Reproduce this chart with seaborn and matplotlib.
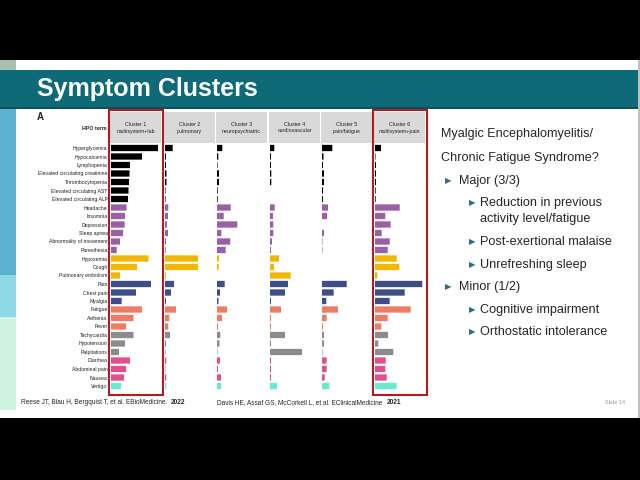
import numpy as np
import pandas as pd
import seaborn as sns
import matplotlib.pyplot as plt
from matplotlib.patches import Rectangle

# HPO terms (rows) and the symptom group each one belongs to
terms = ['Hyperglycemia', 'Hypocalcemia', 'Lymphopenia', 'Elevated circulating creatinine',
         'Thrombocytopenia', 'Elevated circulating AST', 'Elevated circulating ALP',
         'Headache', 'Insomnia', 'Depression', 'Sleep apnea', 'Abnormality of movement',
         'Paresthesia', 'Hypoxemia', 'Cough', 'Pulmonary embolism', 'Pain', 'Chest pain',
         'Myalgia', 'Fatigue', 'Asthenia', 'Fever', 'Tachycardia', 'Hypotension',
         'Palpitations', 'Diarrhea', 'Abdominal pain', 'Nausea', 'Vertigo']
groups = (['lab'] * 7 + ['neuro'] * 6 + ['pulm'] * 3 + ['pain'] * 3 + ['fatigue'] * 3
          + ['cardio'] * 3 + ['gi'] * 3 + ['vertigo'])
group_colors = {'lab': '#000000', 'neuro': '#9b5fa5', 'pulm': '#f1b606', 'pain': '#3d4e8a',
                'fatigue': '#f07b63', 'cardio': '#8c8c8c', 'gi': '#e0508c', 'vertigo': '#66ebd2'}

cluster_names = ['Cluster 1\nmultisystem+lab', 'Cluster 2\npulmonary', 'Cluster 3\nneuropsychiatric',
                 'Cluster 4\ncardiovascular', 'Cluster 5\npain/fatigue', 'Cluster 6\nmultisystem+pain']

# relative frequency of each term per cluster
cluster1 = [47, 31, 19, 18.5, 18, 17.5, 17, 15.5, 14, 13.7, 12, 9, 5.7, 37.5, 26, 9, 40, 25,
            10.7, 31, 22.5, 15, 22.5, 14, 8, 19, 15, 13, 10]
cluster2 = [7.7, 1, 1, 1.5, 1.5, 0.5, 0.5, 3.3, 3, 2, 3, 1, 0.7, 33, 33, 1, 9, 6,
            1, 11, 4.3, 3.3, 5, 1, 0.5, 1.3, 0.5, 1.3, 1.3]
cluster3 = [5.3, 1.3, 0.5, 2, 2, 0.7, 0.7, 13.7, 6.7, 20.3, 4.3, 13.3, 8.7, 2, 1.7, 0, 7.7, 3,
            1.5, 10, 5, 1, 3.3, 2.5, 0.5, 3, 1, 4, 4]
cluster4 = [4.3, 1, 1, 1.3, 1.3, 0, 0, 4.7, 3, 3.3, 3.3, 2, 1, 9, 4, 20.7, 18, 15,
            1, 11, 1, 1, 15, 1, 32, 1, 1, 1, 7]
cluster5 = [10.3, 1.5, 1, 2, 2, 1, 1, 6, 5, 0, 2, 0.5, 0.5, 0, 0, 0, 24.7, 11.7,
            4.3, 16, 4.7, 1, 2, 2, 0.5, 4.7, 4.7, 2.7, 7.3]
cluster6 = [6, 0.5, 1, 1, 1, 0.7, 0.7, 24.7, 10.3, 15.7, 6.7, 14.7, 12.7, 21.7, 24.3, 2.3, 47.3, 29.7,
            14.7, 35.7, 12.7, 6.3, 13, 3.3, 18.3, 10.7, 10.3, 11.7, 21.7]
clusters = [cluster1, cluster2, cluster3, cluster4, cluster5, cluster6]

W, H = 640, 480


def box(x0, y0, x1, y1):
    # pixel box -> figure fraction rect
    return [x0 / W, 1 - y1 / H, (x1 - x0) / W, (y1 - y0) / H]


sns.set_theme(style='white')
plt.rcParams['font.family'] = ['Liberation Sans', 'DejaVu Sans']

fig = plt.figure(figsize=(6.4, 4.8), dpi=100, facecolor='black')

# slide background
bg = fig.add_axes([0, 0, 1, 1])
bg.set_xlim(0, W)
bg.set_ylim(H, 0)
bg.axis('off')
bg.add_patch(Rectangle((0, 60), 638, 358, color='white', lw=0))
bg.add_patch(Rectangle((638, 60), 2, 358, color='#bfbfbf', lw=0))
bg.add_patch(Rectangle((0, 60), 16, 10, color='#a9bfb0', lw=0))
bg.add_patch(Rectangle((0, 70), 638, 38, color='#0e6a77', lw=0))
bg.add_patch(Rectangle((0, 107), 638, 1.5, color='#0a4f5a', lw=0))
bg.add_patch(Rectangle((0, 108.5), 16, 166.5, color='#5ab1d0', lw=0))
bg.add_patch(Rectangle((0, 275), 16, 42, color='#8ed9e6', lw=0))
bg.add_patch(Rectangle((0, 317), 16, 93, color='#cdf5e1', lw=0))
bg.text(37, 89, 'Symptom Clusters', color='white', fontsize=18, fontweight='bold',
        va='center', ha='left')
bg.text(37, 117, 'A', fontsize=7, fontweight='bold', va='center', ha='left')
bg.text(107, 128, 'HPO term', fontsize=3.8, fontweight='bold', va='center', ha='right')

lefts = [110, 164, 216, 269, 321, 374]
for left, name in zip(lefts, cluster_names):
    bg.add_patch(Rectangle((left, 112), 51, 31, color='#d9d9d9', lw=0))
    bg.text(left + 25.5, 127.5, name, fontsize=3.8, ha='center', va='center',
            color='#222222', linespacing=1.5)

palette = [group_colors[g] for g in groups]
for i, (left, vals) in enumerate(zip(lefts, clusters)):
    ax = fig.add_axes(box(left + 1, 143.75, left + 52, 390.25))
    df = pd.DataFrame({'term': terms, 'value': vals})
    sns.barplot(data=df, x='value', y='term', hue='term', palette=palette, legend=False,
                width=0.74, saturation=1, linewidth=0, ax=ax)
    for p in ax.patches:
        p.set_snap(False)
    ax.set_xlim(0, 51)
    ax.set_facecolor('none')
    sns.despine(ax=ax, left=True, bottom=True)
    ax.set_xticks([])
    ax.set_xlabel('')
    ax.set_ylabel('')
    if i == 0:
        ax.tick_params(axis='y', length=0, pad=2.5, labelsize=3.7, labelcolor='#222222')
    else:
        ax.set_yticks([])

# overlay: highlight boxes, notes and references
ov = fig.add_axes([0, 0, 1, 1])
ov.set_xlim(0, W)
ov.set_ylim(H, 0)
ov.axis('off')
ov.set_facecolor('none')
for x0 in [109, 373]:
    ov.add_patch(Rectangle((x0, 110), 54, 285, fill=False, edgecolor='#b01c24', lw=1.5))

note = [
    (441, 134, None, 'Myalgic Encephalomyelitis/'),
    (441, 158, None, 'Chronic Fatigue Syndrome?'),
    (459, 181, 445, 'Major (3/3)'),
    (480, 203, 469, 'Reduction in previous'),
    (480, 219, None, 'activity level/fatigue'),
    (480, 242, 469, 'Post-exertional malaise'),
    (480, 265, 469, 'Unrefreshing sleep'),
    (459, 287, 445, 'Minor (1/2)'),
    (480, 310, 469, 'Cognitive impairment'),
    (480, 332, 469, 'Orthostatic intolerance'),
]
for tx, ty, bx, s in note:
    ov.text(tx, ty, s, fontsize=9.1, color='#262626', va='center', ha='left')
    if bx is not None:
        ov.text(bx, ty, '\u25b6', fontsize=6, color='#2a6f85', va='center', ha='left',
                family='DejaVu Sans')

refs = [(21, 'Reese JT, Blau H, Bergquist T, et al. EBioMedicine.', '2022'),
        (217, 'Davis HE, Assaf GS, McCorkell L, et al. EClinicalMedicine', '2021')]
fig.canvas.draw()
renderer = fig.canvas.get_renderer()
for x0, body, year in refs:
    t = ov.text(x0, 403, body, fontsize=4.7, color='#262626', va='center', ha='left')
    ext = t.get_window_extent(renderer=renderer)
    x_end = ov.transData.inverted().transform((ext.x1, ext.y0))[0]
    ov.text(x_end + 4, 403, year, fontsize=4.7, fontweight='bold', color='#262626',
            va='center', ha='left')
ov.text(625, 402, 'Slide 14', fontsize=4, color='#9a9a9a', va='center', ha='right')

fig.savefig('out.png', dpi=100, facecolor='black')
